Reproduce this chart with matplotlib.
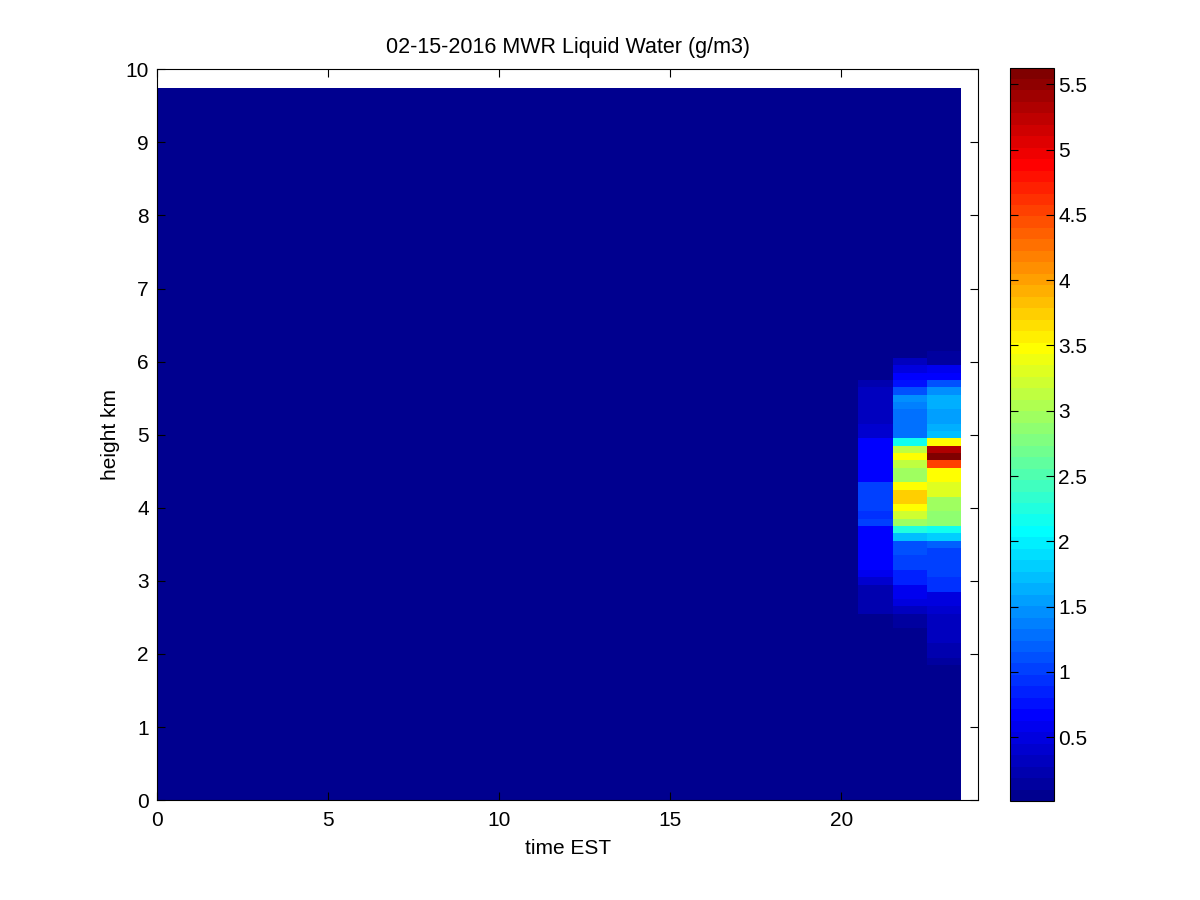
import numpy as np
import matplotlib
matplotlib.use("Agg")
import matplotlib.pyplot as plt
from matplotlib.colors import ListedColormap

plt.rcParams['font.family'] = ['Liberation Sans', 'DejaVu Sans']

# time (hour centres, EST) and height (km centres) of the retrieval grid
time_est = np.arange(0, 24)
height_km = np.round(np.arange(0, 9.75, 0.1), 2)

background = 0.02

# liquid water (g/m3) in the last three hours, listed from 6.4 km down to 1.8 km
prof_heights = np.round(np.arange(6.4, 1.75, -0.1), 2)
lw_21h = [0.02, 0.02, 0.02, 0.02, 0.02, 0.02, 0.02,
          0.25, 0.29, 0.29, 0.29, 0.32, 0.36, 0.43, 0.43,
          0.64, 0.64, 0.64, 0.64, 0.64, 0.64,
          0.99, 1.06, 0.99, 0.99, 0.92, 0.99,
          0.64, 0.64, 0.64, 0.64, 0.64, 0.64, 0.60,
          0.43,
          0.22, 0.22, 0.22, 0.22,
          0.02, 0.02, 0.02, 0.02, 0.02, 0.02, 0.02, 0.02]
lw_22h = [0.02, 0.02, 0.02, 0.06, 0.36, 0.50, 0.71,
          0.75, 1.13, 1.42, 1.34, 1.27, 1.27, 1.27, 1.27,
          2.12, 3.10, 3.52, 3.10, 2.96, 2.96, 3.52, 3.73, 3.73, 3.52, 3.24, 2.96,
          2.26, 1.70, 1.13, 1.13, 1.06, 1.06, 0.85, 0.85,
          0.57, 0.57, 0.50, 0.36, 0.15, 0.10, 0.08, 0.06,
          0.02, 0.02, 0.02, 0.02]
lw_23h = [0.06, 0.08, 0.08, 0.10, 0.10, 0.57, 0.71,
          1.13, 1.42, 1.63, 1.63, 1.56, 1.56, 1.63, 1.70,
          3.52, 5.28, 5.63, 4.51, 3.52, 3.52, 3.31, 3.31, 2.96, 2.96, 2.89, 2.89,
          2.12, 1.84, 1.20, 1.06, 1.06, 0.99, 0.99, 0.92, 0.92,
          0.50, 0.50, 0.40, 0.36, 0.36, 0.29, 0.29, 0.22, 0.22, 0.18, 0.02]

lwc = np.full((len(height_km), len(time_est)), background)
for hour, prof in [(21, lw_21h), (22, lw_22h), (23, lw_23h)]:
    for h, v in zip(prof_heights, prof):
        i = np.argmin(np.abs(height_km - h))
        lwc[i, hour] = v

# cell edges half way between centres
t_edges = np.append(time_est - 0.5, time_est[-1] + 0.5)
h_edges = np.append(height_km - 0.05, height_km[-1] + 0.05)


def matlab_jet(m=64):
    # same recipe as MATLAB's jet(m)
    n = int(np.ceil(m / 4))
    u = np.concatenate([np.arange(1, n + 1) / n, np.ones(n - 1), np.arange(n, 0, -1) / n])
    g = int(np.ceil(n / 2)) - (1 if m % 4 == 1 else 0) + np.arange(1, len(u) + 1)
    r = g + n
    b = g - n
    J = np.zeros((m, 3))
    for col, idx in ((0, r), (1, g), (2, b)):
        ok = (idx >= 1) & (idx <= m)
        J[idx[ok] - 1, col] = u[ok]
    return ListedColormap(J)


fig = plt.figure(figsize=(12, 9), dpi=100)
ax = fig.add_axes([0.131, 0.111, 0.684, 0.812])
cax = fig.add_axes([0.842, 0.110, 0.036, 0.815])

mesh = ax.pcolormesh(t_edges, h_edges, lwc, cmap=matlab_jet(64), vmin=0.01, vmax=5.63,
                     shading='flat')

ax.set_xlim(0, 24)
ax.set_ylim(0, 10)
ax.set_xticks([0, 5, 10, 15, 20])
ax.set_yticks(range(0, 11))
ax.tick_params(direction='in', top=True, right=True, length=6, labelsize=15)
ax.tick_params(axis='x', pad=8)
ax.tick_params(axis='y', pad=6)
ax.set_xlabel('time EST', fontsize=15, labelpad=6)
ax.set_ylabel('height km', fontsize=15, labelpad=4)
ax.set_title('02-15-2016 MWR Liquid Water (g/m3)', fontsize=15.5, pad=12)

cb = fig.colorbar(mesh, cax=cax)
cb.set_ticks(np.arange(0.5, 5.6, 0.5))
cb.set_ticklabels(['0.5', '1', '1.5', '2', '2.5', '3', '3.5', '4', '4.5', '5', '5.5'])
cax.tick_params(direction='in', left=True, right=True, length=6, labelsize=15)

fig.savefig('out.png', dpi=100)
